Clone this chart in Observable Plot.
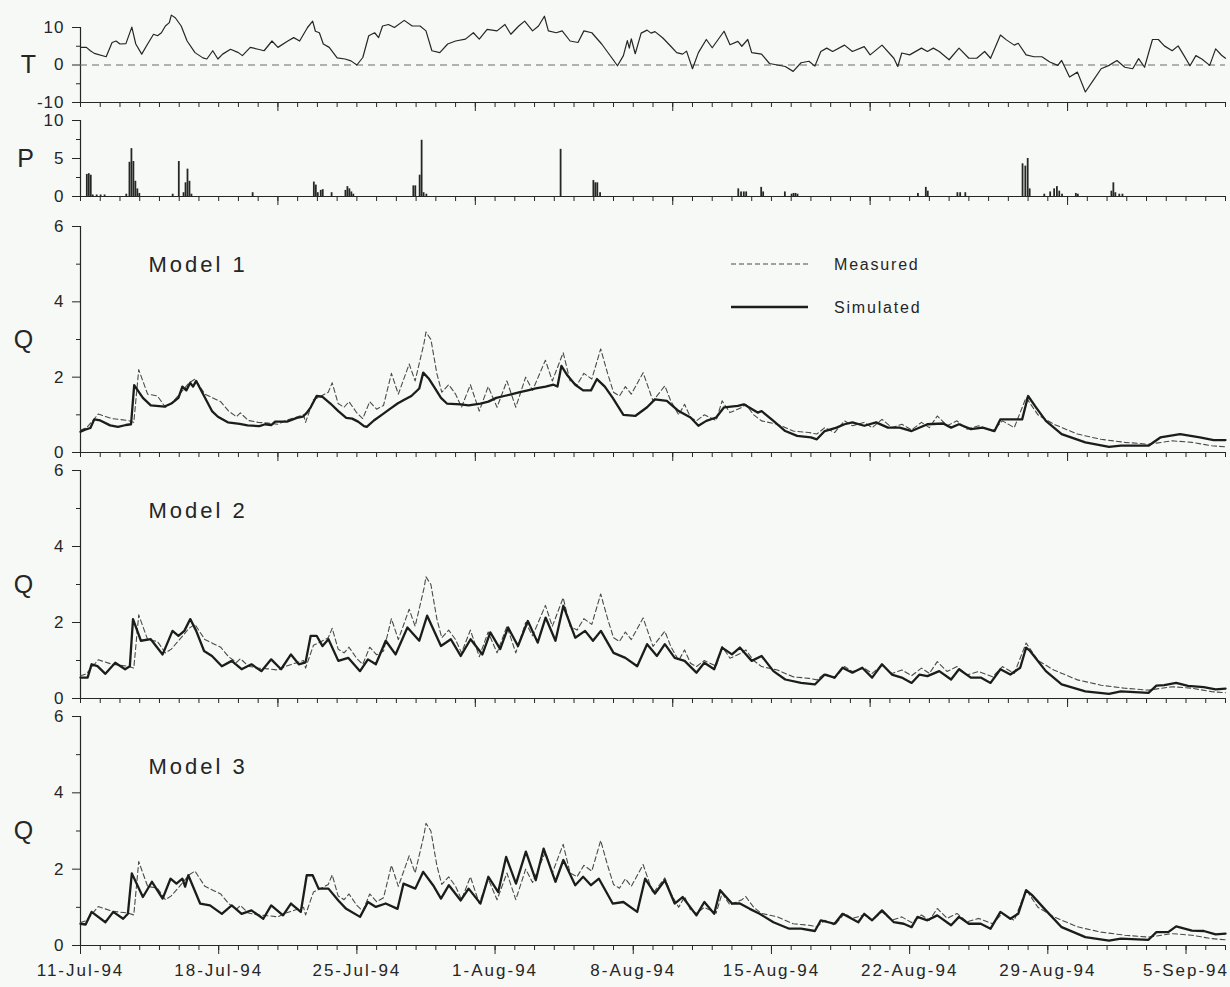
<!DOCTYPE html>
<html>
<head>
<meta charset="utf-8">
<script src="https://cdn.jsdelivr.net/npm/d3@7"></script>
<script src="https://cdn.jsdelivr.net/npm/@observablehq/plot@0.6"></script>
<style>
  body { margin: 0; background: #f7f9f6; }
  #chart { position: relative; width: 1230px; height: 987px; font-family: "Liberation Sans", Arial, sans-serif; }
  #chart svg { position: absolute; left: 0; top: 0; background: transparent; overflow: visible; }
  #chart g[aria-label="y-axis tick label"] text { letter-spacing: 1px; }
  #chart g[aria-label="x-axis tick label"] text { letter-spacing: 2px; }
  #chart .mlabel text { letter-spacing: 3px; }
</style>
</head>
<body>
<div id="chart"></div>
<script>
// ---------------- data (days after 11-Jul-94 00:00) ----------------
const dateLabels = ["11-Jul-94","18-Jul-94","25-Jul-94","1-Aug-94","8-Aug-94","15-Aug-94","22-Aug-94","29-Aug-94","5-Sep-94"];

// Air temperature T
const tDays = [0,0.3,0.5,0.7,1.3,1.6,1.8,2.0,2.3,2.6,2.8,3.1,3.4,3.7,3.9,4.1,4.3,4.5,4.6,4.8,5.1,5.4,5.8,6.2,6.4,6.7,6.96,7.2,7.6,8.0,8.2,8.6,9.0,9.3,9.7,10.0,10.5,10.8,11.1,11.5,11.76,11.9,12.1,12.3,12.6,13.0,13.4,13.7,14.0,14.3,14.6,14.9,15.1,15.3,15.6,15.9,16.4,16.8,17.2,17.5,17.8,18.2,18.6,19.0,19.5,19.9,20.2,20.6,21.1,21.5,21.8,22.2,22.5,22.9,23.2,23.5,23.7,24.1,24.4,24.8,25.2,25.5,25.9,26.4,26.9,27.2,27.5,27.7,27.8,27.9,28.1,28.4,28.7,28.9,29.1,29.5,29.9,30.2,30.5,30.7,31.0,31.3,31.7,32.0,32.6,32.9,33.3,33.5,33.8,34.0,34.5,34.9,35.3,35.7,36.1,36.5,36.9,37.2,37.5,37.8,38.1,38.7,39.1,39.7,40.0,40.6,41.2,41.4,41.6,42.0,42.6,42.9,43.2,43.5,44.0,44.5,45.0,45.4,45.8,46.1,46.6,46.9,47.3,47.5,47.9,48.3,48.7,49.1,49.5,49.7,50.1,50.5,50.9,51.3,51.7,52.1,52.5,52.9,53.3,53.6,53.9,54.3,54.6,54.9,55.3,55.6,55.9,56.2,56.5,56.8,57.2,57.5,57.8,58];
const tVals = [4.7,4.7,3.8,3.1,2.2,6.0,6.4,5.6,5.7,10.1,5.6,2.9,5.6,8.2,7.8,8.6,10.4,11.3,13.3,12.6,10.4,6.4,3.3,1.9,1.6,3.8,1.6,2.9,4.2,3.3,2.5,4.7,4.2,3.8,6.4,4.7,6.4,7.3,6.4,10.0,11.7,9.0,8.6,5.6,4.7,1.9,1.6,1.1,0,2.0,7.8,8.6,7.3,10.4,10.8,10.0,11.9,10.4,10.4,9.1,3.8,3.3,5.6,6.4,6.9,8.6,6.9,9.5,9.1,10.8,8.2,10.4,11.7,9.1,10.4,13.0,9.1,8.6,9.1,6.4,6.0,9.1,8.6,5.6,2.0,-0.2,2.5,6.5,4.5,7.0,3.0,8.5,9.3,8.5,8.9,7.2,5.0,3.3,2.9,3.7,-1.0,3.3,6.8,4.6,9.0,5.4,6.3,5.0,6.8,3.3,2.9,0.4,0,-0.4,-1.7,0.6,1.0,-0.3,3.6,4.5,3.6,5.3,3.6,4.9,2.7,5.3,1.8,-0.4,3.2,2.7,4.5,3.6,4.5,3.6,1.4,4.5,1.8,1.8,3.6,1.8,8.0,6.7,5.3,5.8,2.7,2.2,2.2,0.8,-0.1,1.2,-3.2,-1.9,-7.2,-4.1,-1.0,-0.1,1.2,-0.6,-1.0,1.7,-0.6,6.8,6.8,5.1,3.8,5.1,2.5,-0.2,2.5,1.6,-0.1,4.3,2.6,1.8];

// Precipitation P (bar start day, value)
const pDays = [0.3,0.4,0.5,0.6,0.8,1.0,1.2,2.3,2.46,2.56,2.66,2.76,2.86,2.96,4.65,4.96,5.2,5.3,5.4,5.5,5.6,8.7,11.8,11.9,12.0,12.15,12.25,12.7,13.4,13.5,13.6,13.7,13.8,16.84,16.94,17.16,17.26,17.36,17.5,24.3,25.96,26.06,26.16,26.3,33.3,33.44,33.58,33.7,34.46,34.56,35.66,36.0,36.1,36.2,36.3,42.4,42.8,42.9,44.4,44.54,44.8,47.7,47.84,47.96,48.06,48.8,49.1,49.3,49.44,49.56,49.7,50.4,50.5,52.2,52.3,52.4,52.6,52.76];
const pVals = [2.9,3.0,2.8,0.2,0.2,0.2,0.2,0.3,4.5,6.3,4.6,2.0,1.0,0.4,0.3,4.6,0.5,1.8,3.6,2.0,0.3,0.5,1.9,1.5,0.5,0.8,0.9,0.5,0.8,1.3,1.0,0.6,0.3,1.4,1.4,2.8,7.4,0.5,0.3,6.2,2.1,1.8,1.8,0.5,1.0,0.6,0.6,0.6,1.2,0.6,0.6,0.3,0.4,0.4,0.3,0.4,1.2,0.7,0.5,0.5,0.5,4.3,4.0,5.0,1.0,0.3,0.6,1.0,1.3,0.7,0.3,0.4,0.3,0.7,1.8,0.5,0.3,0.3];

// Measured discharge Q (same in all three panels)
const measDays = [0,0.3,0.9,1.6,2.4,2.7,2.95,3.4,3.9,4.3,4.6,5.1,5.5,5.8,6.3,6.7,7.1,7.5,7.9,8.1,8.5,9.0,9.5,10.0,10.4,11.0,11.3,11.4,11.8,12.2,12.55,12.75,13.05,13.35,13.6,14.0,14.3,14.65,15.0,15.35,15.75,16.1,16.65,16.95,17.4,17.5,17.75,18.05,18.3,18.65,19.0,19.3,19.75,20.2,20.65,21.1,21.6,22.05,22.55,22.9,23.55,23.9,24.45,24.8,25.15,25.5,25.9,26.35,26.7,27.0,27.3,27.6,27.9,28.5,29.0,29.6,29.9,30.3,30.6,30.9,31.2,31.6,32.2,32.5,32.9,33.5,33.7,34.1,34.5,35.3,36.1,36.9,37.3,37.7,38.2,38.7,39.1,39.7,40.1,40.6,41.1,41.6,42.1,42.6,43.0,43.4,43.9,44.4,44.9,45.5,46.2,46.7,47.3,47.9,48.5,49.3,50.5,51.7,52.9,54.1,55.3,56.3,57.3,58];
const measQ = [0.6,0.65,1.02,0.9,0.85,0.8,2.2,1.55,1.5,1.2,1.3,1.6,1.85,1.95,1.55,1.45,1.35,1.1,0.95,1.05,0.85,0.8,0.78,0.75,0.85,0.95,1.0,0.8,1.4,1.5,1.6,1.85,1.3,1.2,1.35,1.05,0.9,1.35,1.15,1.25,2.1,1.55,2.35,1.9,2.9,3.2,3.0,2.1,1.6,1.8,1.55,1.2,1.8,1.1,1.75,1.2,1.9,1.2,2.0,1.65,2.45,1.9,2.65,1.9,1.8,2.1,1.95,2.75,2.1,1.6,1.5,1.75,1.55,2.12,1.37,1.77,1.37,1.0,1.28,0.93,0.84,1.0,0.85,1.37,1.06,1.2,1.28,1.0,0.84,0.75,0.57,0.53,0.49,0.66,0.53,0.84,0.71,0.8,0.66,0.88,0.66,0.75,0.6,0.8,0.66,0.97,0.71,0.84,0.62,0.71,0.57,0.84,0.66,1.46,1.0,0.75,0.49,0.35,0.27,0.22,0.31,0.27,0.18,0.15];

// Simulated discharge, Model 1
const sim1Days = [0,0.2,0.5,0.7,1.0,1.5,1.9,2.3,2.56,2.72,3.16,3.56,4.26,4.6,4.96,5.16,5.36,5.56,5.7,5.86,6.26,6.66,6.96,7.46,8.06,8.46,9.06,9.36,9.66,9.86,10.46,10.96,11.26,11.46,11.66,11.96,12.26,12.66,13.06,13.46,13.76,14.06,14.36,14.5,14.86,15.26,15.66,16.06,16.4,16.76,16.96,17.16,17.36,17.66,17.96,18.26,18.56,19.26,19.66,20.26,20.66,21.06,21.46,21.86,22.26,22.66,23.06,23.56,23.96,24.16,24.36,24.66,25.06,25.46,25.86,26.16,26.56,26.96,27.5,28.1,28.7,29.1,29.7,30.3,30.9,31.3,31.7,32.2,32.6,33.3,33.6,34.3,34.5,35.1,35.7,36.3,37.0,37.3,37.7,38.3,38.7,39.1,39.7,40.3,40.9,41.5,42.1,42.9,43.7,44.1,44.5,45.1,45.7,46.3,46.6,47.7,48.0,48.4,48.9,49.7,50.9,52.1,52.7,54.1,54.7,55.7,56.7,57.4,58];
const sim1Q = [0.55,0.6,0.65,0.88,0.85,0.72,0.68,0.73,0.75,1.79,1.45,1.25,1.22,1.3,1.45,1.75,1.65,1.85,1.75,1.9,1.5,1.1,0.95,0.8,0.76,0.72,0.7,0.75,0.73,0.82,0.82,0.92,0.95,1.05,1.2,1.5,1.48,1.3,1.1,0.92,0.9,0.82,0.7,0.68,0.85,1.0,1.15,1.3,1.4,1.5,1.6,1.7,2.12,1.95,1.7,1.45,1.3,1.28,1.25,1.3,1.35,1.45,1.5,1.55,1.6,1.65,1.7,1.75,1.8,1.75,2.3,2.05,1.8,1.65,1.65,1.95,1.75,1.45,1.0,0.97,1.2,1.41,1.37,1.1,0.93,0.71,0.84,0.93,1.2,1.24,1.28,1.06,1.1,0.84,0.57,0.44,0.4,0.35,0.57,0.66,0.75,0.8,0.71,0.8,0.66,0.66,0.57,0.75,0.77,0.66,0.75,0.62,0.66,0.57,0.88,0.88,1.5,1.2,0.84,0.49,0.27,0.15,0.18,0.18,0.4,0.49,0.4,0.33,0.33];

// Simulated discharge, Model 2
const sim2Days = [0,0.36,0.56,0.86,1.26,1.76,2.26,2.5,2.66,3.06,3.56,4.16,4.66,4.96,5.26,5.56,5.86,6.26,6.66,7.16,7.66,8.16,8.66,9.16,9.66,10.16,10.66,11.06,11.4,11.66,11.96,12.26,12.56,13.06,13.56,14.16,14.56,14.96,15.46,15.96,16.56,17.16,17.56,18.26,18.76,19.26,19.76,20.36,20.76,21.26,21.66,22.16,22.66,23.16,23.56,24.06,24.46,25.06,25.56,25.96,26.36,27.0,27.6,28.2,28.7,29.2,29.6,30.1,30.6,31.2,31.6,32.1,32.5,33.0,33.4,34.0,34.5,35.1,35.7,36.5,37.2,37.7,38.2,38.6,39.1,39.6,40.1,40.6,41.1,41.6,42.1,42.5,42.9,43.5,44.1,44.5,45.1,45.6,46.1,46.6,47.1,47.6,47.9,48.1,48.9,49.7,50.9,52.1,52.7,54.1,54.5,54.9,55.5,56.1,56.9,57.5,58];
const sim2Q = [0.55,0.55,0.9,0.85,0.65,0.94,0.77,0.85,2.09,1.52,1.56,1.16,1.78,1.65,1.78,2.09,1.78,1.25,1.12,0.85,0.99,0.77,0.9,0.72,1.03,0.77,1.16,0.9,0.95,1.65,1.65,1.38,1.56,0.99,1.07,0.72,1.03,0.9,1.52,1.16,1.87,1.52,2.18,1.38,1.56,1.12,1.56,1.16,1.74,1.3,1.87,1.38,2.04,1.47,2.13,1.52,2.44,1.6,1.78,1.52,1.78,1.2,1.07,0.85,1.43,1.12,1.43,1.07,0.99,0.68,0.94,0.77,1.34,1.16,1.34,0.99,1.12,0.72,0.5,0.41,0.37,0.63,0.55,0.81,0.68,0.81,0.55,0.9,0.63,0.55,0.41,0.63,0.59,0.72,0.5,0.77,0.55,0.55,0.41,0.77,0.63,0.81,1.34,1.25,0.72,0.37,0.19,0.12,0.19,0.15,0.34,0.35,0.41,0.33,0.3,0.24,0.26];

// Simulated discharge, Model 3
const sim3Days = [0,0.26,0.56,1.26,1.66,2.16,2.4,2.6,3.16,3.62,4.16,4.56,4.86,5.16,5.3,5.46,6.06,6.56,7.16,7.66,8.16,8.66,9.26,9.66,10.26,10.66,11.16,11.46,11.76,12.06,12.56,13.06,13.46,14.16,14.56,14.96,15.46,16.06,16.36,16.96,17.36,17.86,18.26,18.66,19.26,19.66,20.26,20.66,21.16,21.56,22.06,22.56,23.06,23.46,24.06,24.46,25.06,25.46,25.86,26.26,26.96,27.5,28.2,28.6,29.1,29.6,30.1,30.5,31.2,31.6,32.1,32.4,33.0,33.4,33.9,34.4,35.1,35.9,36.5,37.2,37.5,38.2,38.6,39.4,39.7,40.1,40.6,41.2,41.7,42.1,42.4,42.9,43.4,44.1,44.5,45.0,45.6,46.1,46.6,47.1,47.5,47.9,48.2,48.9,49.7,50.9,52.1,52.7,54.1,54.5,55.1,55.5,56.3,56.9,57.5,58];
const sim3Q = [0.57,0.55,0.88,0.61,0.88,0.7,0.83,1.89,1.27,1.67,1.23,1.75,1.62,1.75,1.54,1.84,1.1,1.05,0.83,1.05,0.83,0.92,0.7,1.05,0.79,1.1,0.88,1.84,1.84,1.49,1.49,1.18,0.96,0.75,1.14,1.01,1.1,0.96,1.62,1.49,1.93,1.58,1.23,1.58,1.18,1.49,1.1,1.8,1.4,2.32,1.62,2.46,1.71,2.54,1.67,2.24,1.58,1.8,1.58,1.75,1.1,1.14,0.88,1.75,1.36,1.71,1.1,1.27,0.79,1.14,0.83,1.45,1.1,1.1,0.96,0.83,0.61,0.44,0.44,0.38,0.66,0.57,0.83,0.61,0.83,0.66,0.92,0.61,0.57,0.48,0.75,0.66,0.79,0.53,0.75,0.57,0.57,0.44,0.88,0.7,0.83,1.45,1.32,0.92,0.48,0.22,0.13,0.18,0.15,0.35,0.35,0.5,0.39,0.38,0.29,0.31];

const modelNames = ["Model 1", "Model 2", "Model 3"];
const legendNames = ["Measured", "Simulated"];

// ---------------- helpers ----------------
const start = Date.UTC(1994, 6, 11);
const toDate = d => new Date(start + d * 864e5);
const series = (days, vals) => days.map((d, i) => ({date: toDate(d), value: vals[i]}));

const tData = series(tDays, tVals);
const pData = pDays.map((d, i) => ({x1: toDate(d), x2: toDate(d + 0.09), value: pVals[i]}));
const measData = series(measDays, measQ);
const simData = [series(sim1Days, sim1Q), series(sim2Days, sim2Q), series(sim3Days, sim3Q)];

const ink = "#262626";
const W = 1230, H = 987;
const xDomain = [toDate(0), toDate(58)];
const dailyTicks = d3.range(0, 59).map(toDate);
const tenDayTicks = [10, 20, 30, 40, 50].map(toDate);
const weekTicks = dateLabels.map((_, i) => toDate(7 * i));
const weekLabel = new Map(weekTicks.map((d, i) => [+d, dateLabels[i]]));

const chart = document.getElementById("chart");

function panel(cfg) {
  const marks = [
    Plot.ruleX([xDomain[0]], {stroke: ink, strokeWidth: 1.2}),
    Plot.ruleY([cfg.domain[0]], {stroke: ink, strokeWidth: 1.2}),
    Plot.axisY({ticks: cfg.major, tickSize: 8, tickPadding: 8, fontSize: 17, label: null, tickFormat: d => String(d)}),
    Plot.axisY({ticks: cfg.minor, tickSize: 4, label: null, tickFormat: () => ""}),
    Plot.axisX({ticks: dailyTicks, tickSize: 5, label: null, tickFormat: () => ""}),
    cfg.bottom
      ? Plot.axisX({ticks: weekTicks, tickSize: 9, tickPadding: 9, fontSize: 17, label: null, tickFormat: d => weekLabel.get(+d)})
      : Plot.axisX({ticks: tenDayTicks, tickSize: 9, label: null, tickFormat: () => ""}),
    Plot.text([cfg.name], {text: d => d, frameAnchor: "left", dx: cfg.nameDx, fontSize: 25, textAnchor: "middle", fill: ink}),
    ...cfg.marks
  ];
  const svg = Plot.plot({
    width: W, height: H,
    marginTop: cfg.top, marginBottom: H - cfg.bottomY,
    marginLeft: 80, marginRight: 5,
    x: {type: "utc", domain: xDomain, label: null},
    y: {domain: cfg.domain, label: null},
    style: {fontFamily: '"Liberation Sans", Arial, sans-serif', color: ink, background: "transparent", overflow: "visible"},
    marks
  });
  chart.appendChild(svg);
  return svg;
}

// T panel
panel({
  name: "T", nameDx: -52, top: 27, bottomY: 102, domain: [-10, 10], major: [-10, 0, 10], minor: [-5, 5],
  marks: [
    Plot.ruleY([0], {stroke: "#6a6a6a", strokeWidth: 1.2, strokeDasharray: "7,5"}),
    Plot.line(tData, {x: "date", y: "value", stroke: ink, strokeWidth: 1.2})
  ]
});

// P panel
panel({
  name: "P", nameDx: -55, top: 120, bottomY: 196, domain: [0, 10], major: [0, 5, 10], minor: [2.5, 7.5],
  marks: [
    Plot.rect(pData, {x1: "x1", x2: "x2", y1: 0, y2: "value", fill: ink})
  ]
});

// Q panels
const qLayout = [
  {top: 226, bottomY: 452, labelDy: 38},
  {top: 470, bottomY: 698, labelDy: 40},
  {top: 716, bottomY: 945, labelDy: 50}
];
qLayout.forEach((L, k) => {
  panel({
    name: "Q", nameDx: -57, top: L.top, bottomY: L.bottomY, domain: [0, 6], major: [0, 2, 4, 6], minor: [1, 3, 5],
    bottom: k === 2,
    marks: [
      Plot.line(measData, {x: "date", y: "value", stroke: "#4a4a4a", strokeWidth: 1.1, strokeDasharray: "5,3"}),
      Plot.line(simData[k], {x: "date", y: "value", stroke: "#1c1c1c", strokeWidth: 2.3, strokeLinejoin: "round"}),
      Plot.text([modelNames[k]], {text: d => d, frameAnchor: "top-left", dx: 68, dy: L.labelDy, fontSize: 22, textAnchor: "start", lineAnchor: "middle", fill: ink, className: "mlabel"})
    ]
  });
});

// Legend (inside Model 1 panel)
const leg = d3.select(chart).append("svg").attr("width", W).attr("height", H)
  .style("font-family", '"Liberation Sans", Arial, sans-serif');
const legRows = [
  {y: 264, dash: "5,3", w: 1.1, stroke: "#4a4a4a"},
  {y: 307, dash: null, w: 2.3, stroke: "#1c1c1c"}
];
legRows.forEach((r, i) => {
  leg.append("line").attr("x1", 731).attr("x2", 808).attr("y1", r.y).attr("y2", r.y)
    .attr("stroke", r.stroke).attr("stroke-width", r.w).attr("stroke-dasharray", r.dash);
  leg.append("text").attr("x", 834).attr("y", r.y).attr("dy", "0.35em")
    .attr("font-size", 16).attr("fill", ink).style("letter-spacing", "1.8px").text(legendNames[i]);
});
</script>
</body>
</html>
